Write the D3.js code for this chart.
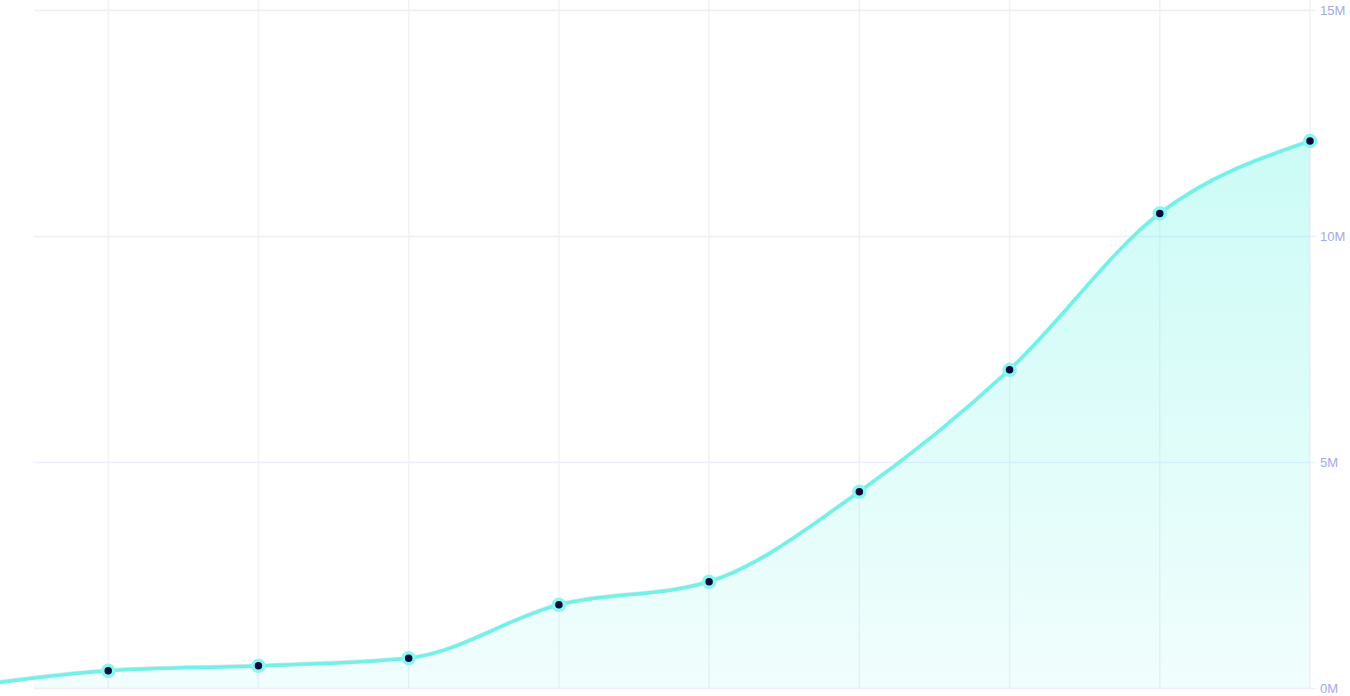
<!DOCTYPE html>
<html>
<head>
<meta charset="utf-8">
<script src="https://cdn.jsdelivr.net/npm/d3@7"></script>
<style>
	html, body { margin: 0; padding: 0; background: #fff; }
	svg { display: block; font-family: Inter, 'Noto Sans', sans-serif; }
</style>
</head>
<body>
<div class="vis"></div>
<script>
// values (millions); first point sits left of the view
var periods = ['P0', 'P1', 'P2', 'P3', 'P4', 'P5', 'P6', 'P7', 'P8', 'P9'];
var values = [0.0, 0.38, 0.49, 0.66, 1.84, 2.35, 4.34, 7.04, 10.5, 12.1];
var yTicks = [0, 5, 10, 15];

var W = 1350, H = 696;
var plot = {left: 34, right: 1310, top: 10, bottom: 688};

var data = periods.map(function(p, i) { return {period: p, value: values[i]}; });

var svg = d3.select('.vis').append('svg')
	.attr('width', W)
	.attr('height', H);

var defs = svg.append('defs');

var grad = defs.append('linearGradient')
	.attr('id', 'fillGrad')
	.attr('gradientUnits', 'userSpaceOnUse')
	.attr('x1', 0).attr('x2', 0)
	.attr('y1', 140).attr('y2', plot.bottom);
grad.append('stop').attr('offset', '0%').attr('stop-color', '#5ff3e4').attr('stop-opacity', 0.32);
grad.append('stop').attr('offset', '100%').attr('stop-color', '#5ff3e4').attr('stop-opacity', 0.09);

defs.append('clipPath')
	.attr('id', 'plotClip')
	.append('rect')
	.attr('x', plot.left)
	.attr('y', 0)
	.attr('width', plot.right - plot.left)
	.attr('height', plot.bottom);

var x = d3.scalePoint()
	.domain(periods)
	.range([-42, plot.right]);

var y = d3.scaleLinear()
	.domain([0, 15])
	.range([plot.bottom, plot.top]);

// vertical grid
svg.append('g')
	.attr('class', 'grid-x')
	.selectAll('line')
	.data(periods.slice(1))
	.enter().append('line')
	.attr('x1', function(d) { return x(d); })
	.attr('x2', function(d) { return x(d); })
	.attr('y1', 0)
	.attr('y2', plot.bottom)
	.attr('stroke', '#f1f1f8')
	.attr('stroke-width', 1.5);

// right axis with horizontal grid
var yAxis = d3.axisRight(y)
	.tickValues(yTicks)
	.tickSize(plot.right - plot.left + 6)
	.tickPadding(4)
	.tickFormat(function(d) { return d + 'M'; });

var axisG = svg.append('g')
	.attr('class', 'y axis')
	.attr('transform', 'translate(' + plot.left + ',0)')
	.call(yAxis);

axisG.select('.domain').remove();
axisG.selectAll('.tick line')
	.attr('stroke', '#ededfb')
	.attr('stroke-width', 1.5);
axisG.selectAll('.tick text')
	.attr('fill', '#a3a8f1')
	.attr('font-size', 13)
	.attr('font-weight', 500);

var curve = d3.curveMonotoneX;

var area = d3.area()
	.x(function(d) { return x(d.period); })
	.y0(y(0))
	.y1(function(d) { return y(d.value); })
	.curve(curve);

var line = d3.line()
	.x(function(d) { return x(d.period); })
	.y(function(d) { return y(d.value); })
	.curve(curve);

svg.append('path')
	.datum(data)
	.attr('clip-path', 'url(#plotClip)')
	.attr('fill', 'url(#fillGrad)')
	.attr('d', area);

// faint shadow above the line
svg.append('path')
	.datum(data)
	.attr('fill', 'none')
	.attr('stroke', 'rgba(80,90,110,0.16)')
	.attr('stroke-width', 2)
	.attr('transform', 'translate(0,-1.5)')
	.attr('d', line);

svg.append('path')
	.datum(data)
	.attr('fill', 'none')
	.attr('stroke', '#6ff3e6')
	.attr('stroke-width', 3.5)
	.attr('d', line);

svg.append('g')
	.attr('class', 'points')
	.selectAll('circle')
	.data(data.slice(1))
	.enter().append('circle')
	.attr('cx', function(d) { return x(d.period); })
	.attr('cy', function(d) { return y(d.value); })
	.attr('r', 5.5)
	.attr('fill', '#0c0b3e')
	.attr('stroke', '#8af6ed')
	.attr('stroke-width', 3.5);
</script>
</body>
</html>
